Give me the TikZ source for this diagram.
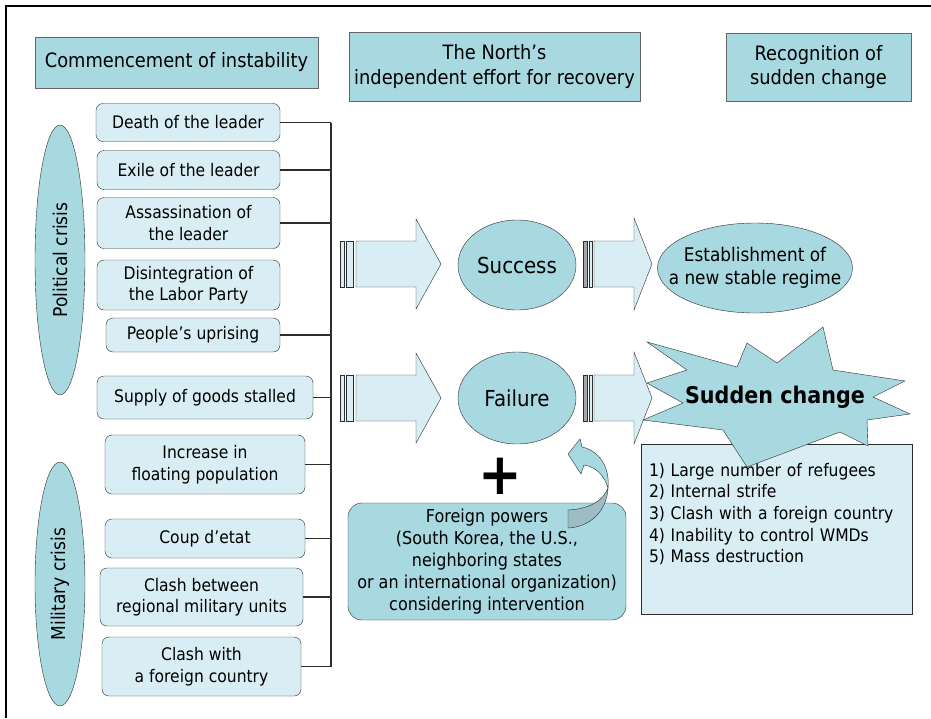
\documentclass[tikz,border=0pt]{standalone}
\usepackage{fontspec}
\setmainfont{DejaVu Sans}[FakeStretch=0.9]
\usepackage{tikz}
\usetikzlibrary{shapes.geometric}
\definecolor{tealfill}{RGB}{168,216,224}
\definecolor{palefill}{RGB}{216,238,244}
\definecolor{edge}{RGB}{45,45,45}

\begin{document}
\begin{tikzpicture}[x=1pt, y=-1pt]
    % Styles
    \tikzstyle{header} = [rectangle, draw=gray!80!black, fill=tealfill, align=center, inner sep=0pt, font=\fontsize{19.8}{24.5}\selectfont]
    \tikzstyle{cause} = [rectangle, draw=edge, fill=palefill, rounded corners=7pt, align=center, inner sep=0pt, font=\fontsize{17.3}{21.5}\selectfont]
    \tikzstyle{crisis} = [ellipse, draw=edge, fill=tealfill, inner sep=0pt, rotate=90, font=\fontsize{19}{22}\selectfont]
    \tikzstyle{outcome} = [ellipse, draw=edge, fill=tealfill, inner sep=0pt, align=center]
    \tikzstyle{bigarrow} = [draw=edge, fill=palefill, line join=miter]
    \tikzstyle{stripe} = [draw=edge, fill=palefill]
    \tikzstyle{link} = [draw=edge, line width=1.2pt]

    \useasboundingbox (0,0) rectangle (931,718);
    \draw[line width=1.5pt] (6,718) -- (6,6) -- (931,6);

    % Headers
    \node[header, minimum width=283, minimum height=51] (start) at (176.5,62.5) {Commencement of instability};
    \node[header, minimum width=291, minimum height=69] (effort) at (494.5,66.5) {The North’s\\independent effort for recovery};
    \node[header, minimum width=185, minimum height=68] (recog) at (818.5,67) {Recognition of\\sudden change};

    % Crises
    \node[crisis, minimum width=270, minimum height=50] (political) at (60,260) {Political crisis};
    \node[crisis, minimum width=244, minimum height=50] (military) at (60,584) {Military crisis};

    % Causes
    \node[cause, minimum width=184, minimum height=38] (death) at (188,122.5) {Death of the leader};
    \node[cause, minimum width=183, minimum height=39] (exile) at (188.5,170) {Exile of the leader};
    \node[cause, minimum width=183, minimum height=51] (assass) at (188.5,223) {Assassination of\\the leader};
    \node[cause, minimum width=183, minimum height=50] (disint) at (188.5,285) {Disintegration of\\the Labor Party};
    \node[cause, minimum width=174, minimum height=34] (uprising) at (193,335) {People’s uprising};
    \node[cause, minimum width=216, minimum height=43] (supply) at (205,397.5) {Supply of goods stalled};
    \node[cause, minimum width=200, minimum height=59] (floating) at (205,464.5) {Increase in\\floating population};
    \node[cause, minimum width=200, minimum height=39] (coup) at (205,538.5) {Coup d’etat};
    \node[cause, minimum width=203, minimum height=58] (regional) at (201.5,597) {Clash between\\regional military units};
    \node[cause, minimum width=199, minimum height=59] (foreign) at (201.5,666.5) {Clash with\\a foreign country};

    % Bracket
    \coordinate (bustop) at (331,122.5);
    \coordinate (busbot) at (331,666.5);
    \draw[link] (bustop) -- (busbot);
    \foreach \n in {death, exile, assass, uprising, supply, floating, coup, regional, foreign}
        \draw[link] (\n.east) -- (\n.east -| bustop);

    % Block arrows
    \foreach \y in {264,398} {
        \draw[bigarrow] (356,\y-23) -- (416,\y-23) -- (416,\y-45) -- (441,\y) -- (416,\y+45) -- (416,\y+23) -- (356,\y+23) -- cycle;
        \draw[stripe] (340,\y-23) rectangle (344,\y+23);
        \draw[stripe] (346,\y-23) rectangle (353,\y+23);
        \draw[bigarrow] (594,\y-23) -- (634,\y-23) -- (634,\y-46) -- (652,\y) -- (634,\y+46) -- (634,\y+23) -- (594,\y+23) -- cycle;
        \draw[stripe, fill=gray!70] (583,\y-23) rectangle (587,\y+23);
        \draw[stripe] (589,\y-23) rectangle (592,\y+23);
    }

    % Outcomes
    \node[outcome, minimum width=118, minimum height=90, font=\fontsize{22}{26}\selectfont] (success) at (517,265) {Success};
    \node[outcome, minimum width=118, minimum height=92, font=\fontsize{22}{26}\selectfont] (failure) at (517,398) {Failure};
    \node[outcome, minimum width=195, minimum height=90, inner xsep=-26pt, font=\fontsize{18.8}{23.5}\selectfont] (regime) at (755,268) {Establishment of\\a new stable regime};

    % Consequences
    \node[rectangle, draw=edge, fill=palefill, minimum width=271, minimum height=170, text width=255, inner xsep=8pt, align=left, text depth=119pt, font=\fontsize{17.3}{21.7}\selectfont] (risks) at (776.5,529)
        {1) Large number of refugees\\2) Internal strife\\3) Clash with a foreign country\\4) Inability to control WMDs\\5) Mass destruction};

    % Starburst
    \draw[draw=edge, fill=tealfill, line join=miter]
        (647,342) -- (737,367) -- (747,343) -- (777,363) -- (823,327) -- (833,370)
        -- (905,381) -- (873,397) -- (910,414) -- (867,420) -- (868,446) -- (840,432)
        -- (747,467) -- (723,430) -- (643,420) -- (683,403) -- (647,383) -- (687,370) -- cycle;
    \node[font=\fontsize{23}{26}\selectfont\bfseries] (sudden) at (775,397) {Sudden change};

    % Foreign powers
    \node[rectangle, draw=edge, fill=tealfill, rounded corners=14pt, minimum width=278, minimum height=117, align=center, inner sep=0pt, font=\fontsize{17.8}{21.8}\selectfont] (powers) at (487,561.5)
        {Foreign powers\\(South Korea, the U.S.,\\neighboring states\\or an international organization)\\considering intervention};
    \node[font=\fontsize{58}{58}\selectfont\bfseries] (plus) at (500,476) {+};

    % Curved arrow
    \draw[draw=edge, fill=tealfill, line join=miter] (568,454) -- (580,439) -- (582,447)
        .. controls (600,451) and (610,468) .. (608,488)
        .. controls (604,475) and (596,467) .. (584,465) -- (581,474) -- cycle;
    \draw[draw=edge, fill=tealfill!70!gray] (608,488)
        .. controls (607,511) and (590,527) .. (568,528) -- (568,510)
        .. controls (589,509) and (603,501) .. (608,488) -- cycle;
\end{tikzpicture}
\end{document}
